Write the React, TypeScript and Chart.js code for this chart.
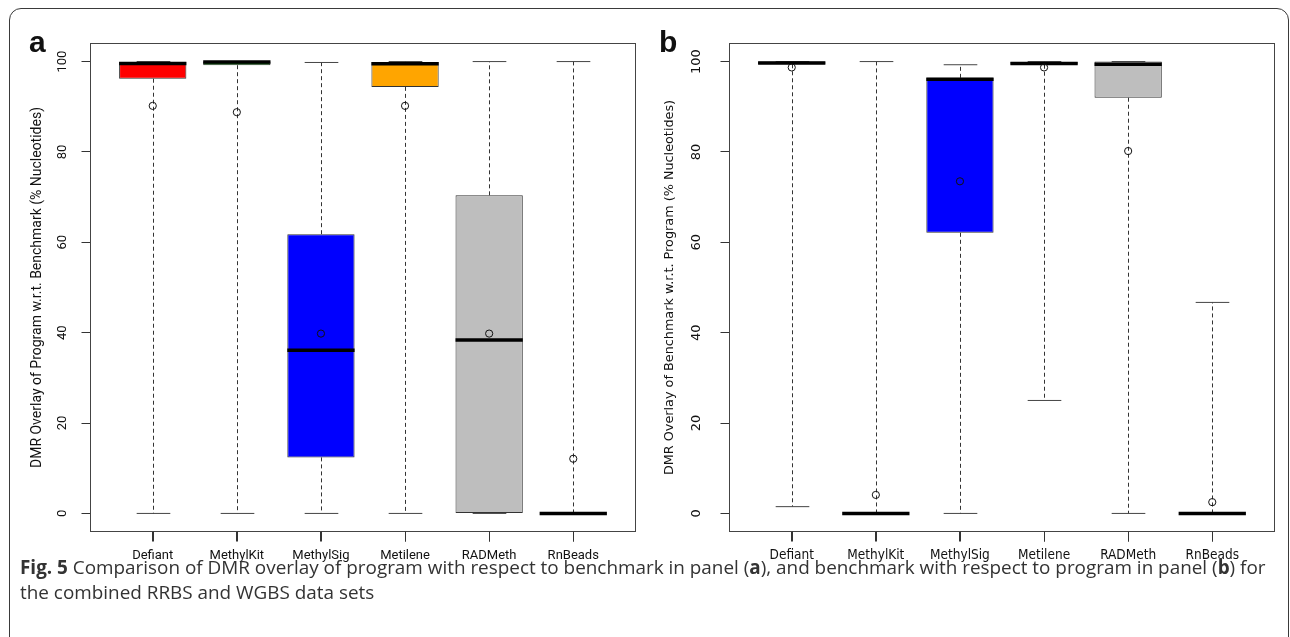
import React, { useEffect, useRef } from 'react';
import { Chart, registerables } from 'chart.js';

Chart.register(...registerables);

// ---------- data ----------
const categories = ['Defiant', 'MethylKit', 'MethylSig', 'Metilene', 'RADMeth', 'RnBeads'];
const boxColors = ['#ff0000', '#0b7a0b', '#0000ff', '#ffa500', '#bebebe', '#bebebe'];
const yTicks = [0, 20, 40, 60, 80, 100];

// Panel a: overlay of program w.r.t. benchmark
const aMin = [0, 0, 0, 0, 0, 0];
const aQ1 = [96.2, 99.2, 12.4, 94.4, 0, 0];
const aMed = [99.6, 99.9, 36.1, 99.5, 38.4, 0];
const aQ3 = [99.9, 100, 61.8, 99.9, 70.4, 0];
const aMax = [100, 100, 99.8, 100, 100, 100];
const aMean = [90.2, 88.8, 39.8, 90.2, 39.8, 12.1];

// Panel b: overlay of benchmark w.r.t. program
const bMin = [1.5, 0, 0, 25.0, 0, 0];
const bQ1 = [99.4, 0, 62.1, 99.3, 92.0, 0];
const bMed = [99.7, 0, 96.1, 99.6, 99.4, 0];
const bQ3 = [100, 0, 96.4, 99.9, 100, 0];
const bMax = [100, 100, 99.3, 100, 100, 46.7];
const bMean = [98.7, 4.1, 73.5, 98.7, 80.2, 2.5];

const titleA = 'DMR Overlay of Program w.r.t. Benchmark (% Nucleotides)';
const titleB = 'DMR Overlay of Benchmark w.r.t. Program (% Nucleotides)';

// R-style axis extension (4%)
const yLo = 0 - 0.04 * 100;
const yHi = 100 + 0.04 * 100;
const xLo = 0.5 - 0.04 * categories.length;
const xHi = categories.length + 0.5 + 0.04 * categories.length;

type Stats = { min: number[]; q1: number[]; med: number[]; q3: number[]; max: number[]; mean: number[] };

const statsA: Stats = { min: aMin, q1: aQ1, med: aMed, q3: aQ3, max: aMax, mean: aMean };
const statsB: Stats = { min: bMin, q1: bQ1, med: bMed, q3: bQ3, max: bMax, mean: bMean };

function boxPlugin(st: Stats) {
  const seg = (ctx: CanvasRenderingContext2D, x1: number, y1: number, x2: number, y2: number) => {
    ctx.beginPath();
    ctx.moveTo(x1, y1);
    ctx.lineTo(x2, y2);
    ctx.stroke();
  };
  return {
    id: 'boxparts',
    beforeDatasetsDraw(chart: any) {
      const { ctx, scales } = chart;
      const x = scales.x;
      const y = scales.y;
      const meta = chart.getDatasetMeta(0);
      ctx.save();
      categories.forEach((_, i) => {
        const el = meta.data[i];
        const cx = Math.round(x.getPixelForValue(i + 1)) + 0.5;
        const half = el.width / 4;
        ctx.strokeStyle = '#333';
        ctx.lineWidth = 1;
        ctx.setLineDash([4, 3]);
        if (st.max[i] > st.q3[i]) seg(ctx, cx, y.getPixelForValue(st.q3[i]), cx, y.getPixelForValue(st.max[i]));
        if (st.min[i] < st.q1[i]) seg(ctx, cx, y.getPixelForValue(st.q1[i]), cx, y.getPixelForValue(st.min[i]));
        ctx.setLineDash([]);
        ctx.strokeStyle = '#444';
        seg(ctx, cx - half, y.getPixelForValue(st.max[i]), cx + half, y.getPixelForValue(st.max[i]));
        seg(ctx, cx - half, y.getPixelForValue(st.min[i]), cx + half, y.getPixelForValue(st.min[i]));
      });
      ctx.restore();
    },
    afterDatasetDraw(chart: any, args: any) {
      if (args.index !== 0) return;
      const { ctx, scales } = chart;
      const y = scales.y;
      const meta = chart.getDatasetMeta(0);
      ctx.save();
      ctx.strokeStyle = '#000';
      ctx.lineWidth = 3.5;
      categories.forEach((_, i) => {
        const el = meta.data[i];
        const py = y.getPixelForValue(st.med[i]);
        seg(ctx, el.x - el.width / 2, py, el.x + el.width / 2, py);
      });
      ctx.restore();
    },
    afterDatasetsDraw(chart: any) {
      const { ctx, chartArea, scales } = chart;
      ctx.save();
      ctx.strokeStyle = '#444';
      ctx.lineWidth = 1;
      ctx.strokeRect(chartArea.left, chartArea.top, chartArea.right - chartArea.left, chartArea.bottom - chartArea.top);
      // x-axis tick marks below the plot frame
      ctx.strokeStyle = '#333';
      categories.forEach((_, i) => {
        const px = Math.round(scales.x.getPixelForValue(i + 1)) + 0.5;
        seg(ctx, px, chartArea.bottom, px, chartArea.bottom + 10);
      });
      ctx.restore();
    },
  };
}

type PanelOpts = {
  title: string;
  family: string;
  labelFamily: string;
  tickSize: number;
  labelSize: number;
  titleSize: number;
  yWidth: number;
  padRight: number;
  titlePad: number;
  tickPad: number;
};

function makeChart(canvas: HTMLCanvasElement, st: Stats, o: PanelOpts) {
  const barData = categories.map((_, i) => ({ x: i + 1, y: [st.q1[i], st.q3[i]] }));
  const meanData = categories.map((_, i) => ({ x: i + 1, y: st.mean[i] }));
  return new Chart(canvas, {
    type: 'bar',
    data: {
      datasets: [
        {
          type: 'bar',
          data: barData as any,
          backgroundColor: boxColors,
          borderColor: '#333',
          borderWidth: 1,
          borderSkipped: false,
          categoryPercentage: 1,
          barPercentage: 0.8,
          order: 2,
        } as any,
        {
          type: 'scatter',
          data: meanData,
          pointRadius: 3.6,
          pointBorderWidth: 1,
          pointBorderColor: '#111',
          pointBackgroundColor: 'rgba(0,0,0,0)',
          pointStyle: 'circle',
          order: 1,
        } as any,
      ],
    },
    options: {
      responsive: false,
      animation: false,
      events: [],
      layout: { padding: { left: 0, right: o.padRight, top: 43.5, bottom: 65.5 } },
      plugins: { legend: { display: false }, tooltip: { enabled: false } },
      scales: {
        x: {
          type: 'linear',
          min: xLo,
          max: xHi,
          offset: false,
          afterBuildTicks: (s: any) => {
            s.ticks = categories.map((_, i) => ({ value: i + 1 }));
          },
          afterFit: (s: any) => {
            s.height = 40;
          },
          ticks: {
            autoSkip: false,
            maxRotation: 0,
            minRotation: 0,
            padding: 6,
            color: '#111',
            font: { family: o.labelFamily, size: o.labelSize },
            callback: (v: any) => categories[Math.round(v) - 1] ?? '',
          },
          grid: { offset: false, drawOnChartArea: false, drawTicks: true, tickLength: 10, color: '#333', lineWidth: 1 },
          border: { display: false },
        },
        y: {
          type: 'linear',
          min: yLo,
          max: yHi,
          afterBuildTicks: (s: any) => {
            s.ticks = yTicks.map((v) => ({ value: v }));
          },
          afterFit: (s: any) => {
            s.width = o.yWidth;
          },
          ticks: {
            minRotation: 90,
            maxRotation: 90,
            crossAlign: 'center',
            padding: o.tickPad,
            color: '#111',
            font: { family: o.family, size: o.tickSize },
          },
          grid: { drawOnChartArea: false, drawTicks: true, tickLength: 9, color: '#333' },
          border: { display: false },
          title: {
            display: true,
            text: o.title,
            color: '#111',
            font: { family: o.family, size: o.titleSize },
            padding: { top: o.titlePad, bottom: 0 },
          },
        },
      },
    } as any,
    plugins: [boxPlugin(st) as any],
  });
}

export default function App() {
  const refA = useRef<HTMLCanvasElement>(null);
  const refB = useRef<HTMLCanvasElement>(null);

  useEffect(() => {
    const ca = makeChart(refA.current!, statsA, {
      title: titleA,
      family: 'Roboto, "Open Sans", sans-serif',
      labelFamily: 'Roboto, "Open Sans", sans-serif',
      tickSize: 13,
      labelSize: 13,
      titleSize: 14,
      yWidth: 90.5,
      padRight: 9.5,
      titlePad: 29.5,
      tickPad: 7.5,
    });
    const cb = makeChart(refB.current!, statsB, {
      title: titleB,
      family: '"DejaVu Sans", sans-serif',
      labelFamily: '"DejaVu Sans Condensed", "DejaVu Sans", sans-serif',
      tickSize: 13,
      labelSize: 13.5,
      titleSize: 12.8,
      yWidth: 84.5,
      padRight: 15.5,
      titlePad: 16.5,
      tickPad: 11,
    });
    return () => {
      ca.destroy();
      cb.destroy();
    };
  }, []);

  const letter: React.CSSProperties = {
    position: 'absolute',
    fontFamily: '"Liberation Sans", Arial, sans-serif',
    fontWeight: 'bold',
    fontSize: 30,
    lineHeight: '30px',
    color: '#111',
  };

  return (
    <div style={{ position: 'absolute', left: 0, top: 0, width: 1290, height: 637, overflow: 'hidden', background: '#fff' }}>
      <div
        style={{
          position: 'absolute',
          left: 9,
          top: 8,
          width: 1280,
          height: 720,
          border: '1.5px solid #3a3a3a',
          borderRadius: 12,
          boxSizing: 'border-box',
        }}
      />
      <canvas ref={refA} width={645} height={637} style={{ position: 'absolute', left: 0, top: 0, width: 645, height: 637 }} />
      <canvas ref={refB} width={645} height={637} style={{ position: 'absolute', left: 645, top: 0, width: 645, height: 637 }} />
      <div style={{ ...letter, left: 29, top: 27 }}>a</div>
      <div style={{ ...letter, left: 659, top: 27 }}>b</div>
      <div
        style={{
          position: 'absolute',
          left: 20,
          top: 555,
          fontFamily: '"Open Sans", sans-serif',
          fontSize: 18.9,
          lineHeight: '25px',
          color: '#333',
          whiteSpace: 'nowrap',
        }}
      >
        <div>
          <b>Fig. 5</b> Comparison of DMR overlay of program with respect to benchmark in panel (<b>a</b>), and benchmark
          with respect to program in panel (<b>b</b>) for
        </div>
        <div>the combined RRBS and WGBS data sets</div>
      </div>
    </div>
  );
}
